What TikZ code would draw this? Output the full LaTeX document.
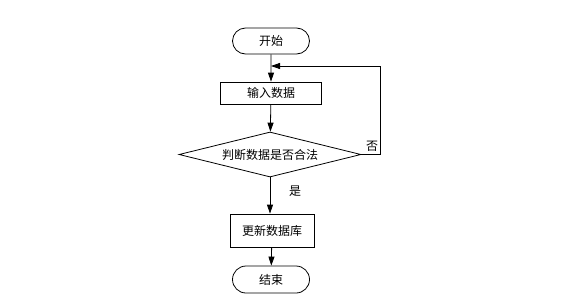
\documentclass[tikz,border=0pt]{standalone}
\usepackage{fontspec}
\usepackage{tikz}
\usetikzlibrary{arrows.meta,positioning,shapes.geometric,shapes.misc}
\newfontfamily\cjk{Noto Sans CJK SC}
\tikzset{
  flowarrow/.style={-{Triangle[length=9pt,width=6pt]}, line width=0.8pt, draw=black},
  termnode/.style={rounded rectangle, draw=black, fill=white, line width=0.8pt, minimum width=77pt, minimum height=26pt, inner sep=0pt, font=\cjk\fontsize{12}{14}\selectfont},
  procnode/.style={rectangle, draw=black, fill=white, line width=0.8pt, inner sep=0pt, font=\cjk\fontsize{12}{14}\selectfont},
  decnode/.style={diamond, draw=black, fill=white, line width=0.8pt, aspect=4, inner sep=0pt, font=\cjk\fontsize{12}{14}\selectfont},
  labeltiny/.style={font=\cjk\fontsize{12}{14}\selectfont, inner sep=0pt},
}
\begin{document}
\begin{tikzpicture}[x=1pt,y=-1pt]
\path[use as bounding box,fill=white] (0,0) rectangle (581,303);

% flow nodes
\node[termnode] (start) at (271,41) {开始};
\node[procnode,minimum width=101pt,minimum height=22pt] (input) at (271,93) {输入数据};
\node[decnode,minimum width=182pt,minimum height=45pt] (check) at (270,154.5) {判断数据是否合法};
\node[procnode,minimum width=84pt,minimum height=33pt] (update) at (272,230.5) {更新数据库};
\node[termnode,minimum height=27pt] (stop) at (271,279.5) {结束};

% connectors
\coordinate (loopin) at (271,66);
\draw[flowarrow] (start) -- (input);
\draw[flowarrow] (input) -- (check);
\draw[flowarrow] (check.south) -- (check.south |- update.north);
\draw[flowarrow] (update) -- (stop);
\draw[flowarrow] (check.east) -- (380,154.5) |- (loopin);

% branch labels
\node[labeltiny] (yes) at (295,191) {是};
\node[labeltiny] (no) at (372,146) {否};
\end{tikzpicture}
\end{document}
